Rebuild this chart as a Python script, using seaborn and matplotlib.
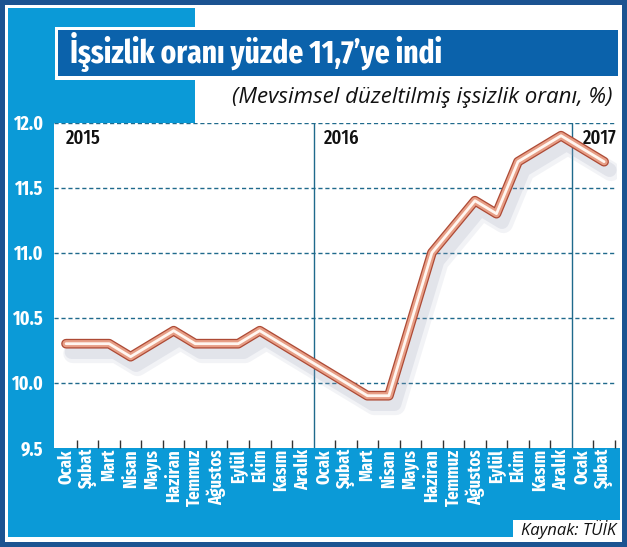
import pandas as pd
import seaborn as sns
import matplotlib.pyplot as plt
import matplotlib.patheffects as pe
from matplotlib.patches import Rectangle

# veriler
aylar = ['Ocak', 'Şubat', 'Mart', 'Nisan', 'Mayıs', 'Haziran', 'Temmuz',
         'Ağustos', 'Eylül', 'Ekim', 'Kasım', 'Aralık',
         'Ocak', 'Şubat', 'Mart', 'Nisan', 'Mayıs', 'Haziran', 'Temmuz',
         'Ağustos', 'Eylül', 'Ekim', 'Kasım', 'Aralık',
         'Ocak', 'Şubat']
oran = [10.3, 10.3, 10.3, 10.2, 10.3, 10.4, 10.3, 10.3, 10.3, 10.4, 10.3, 10.2,
        10.1, 10.0, 9.9, 9.9, 10.45, 11.0, 11.2, 11.4, 11.3, 11.7, 11.8, 11.9,
        11.8, 11.7]
yillar = ['2015', '2016', '2017']
yil_baslangic = [0, 12, 24]
y_ticks = [9.5, 10.0, 10.5, 11.0, 11.5, 12.0]

df = pd.DataFrame({'ay': range(len(oran)), 'oran': oran})

sns.set_style('white')
dar = ['Fira Sans Extra Condensed', 'DejaVu Sans']
italik = ['Open Sans', 'DejaVu Sans']
plt.rcParams['font.family'] = dar

W, H = 627, 547
koyu_mavi = '#1b5391'
acik_mavi = '#0b9ad7'
baslik_mavi = '#0b62ab'

fig = plt.figure(figsize=(W / 100, H / 100), dpi=100)

# arka plan (piksel koordinatlari)
bg = fig.add_axes([0, 0, 1, 1], zorder=0)
bg.set_xlim(0, W)
bg.set_ylim(H, 0)
bg.axis('off')

def kutu(x0, y0, x1, y1, renk):
    bg.add_patch(Rectangle((x0, y0), x1 - x0, y1 - y0, facecolor=renk,
                           edgecolor='none'))

kutu(0, 0, W, H, koyu_mavi)
kutu(5, 5, W - 5, H - 5, 'white')
kutu(8, 8, 195, 123, acik_mavi)
kutu(8, 8, 54, H - 10, acik_mavi)
kutu(8, 448, W - 7, H - 10, acik_mavi)
kutu(513, 520, W - 7, H - 10, 'white')
kutu(55, 27, 618, 80, 'white')
kutu(58, 30, 618, 76, baslik_mavi)

bg.text(70, 62.5, 'İşsizlik oranı yüzde 11,7\u2019ye indi', color='white',
        fontsize=23, fontweight='bold', va='baseline', ha='left')
bg.text(613, 103, '(Mevsimsel düzeltilmiş işsizlik oranı, %)', color='#111111',
        fontsize=16, style='italic', family=italik,
        va='baseline', ha='right')
bg.text(616, 535, 'Kaynak: TÜİK', color='#111111', fontsize=12,
        style='italic', family=italik, va='baseline', ha='right')

# grafik alani
x0, x1, y_ust, y_alt = 54, 617, 122.7, 447.7
ax = fig.add_axes([x0 / W, 1 - y_alt / H, (x1 - x0) / W, (y_alt - y_ust) / H],
                  zorder=1)
ax.set_facecolor('white')

sns.lineplot(data=df, x='ay', y='oran', ax=ax, color='#e49a80', linewidth=4,
             solid_capstyle='round', solid_joinstyle='round', zorder=5)
cizgi = ax.lines[-1]
cizgi.set_path_effects([
    pe.SimpleLineShadow(offset=(5, -7), shadow_color='#9aa0b8', alpha=0.12,
                        linewidth=14),
    pe.SimpleLineShadow(offset=(4, -6), shadow_color='#9aa0b8', alpha=0.18,
                        linewidth=10),
    pe.Stroke(linewidth=7, foreground='#ad4a35', capstyle='round',
              joinstyle='round'),
    pe.Stroke(linewidth=5.2, foreground='#e79e86', capstyle='round',
              joinstyle='round'),
    pe.Stroke(linewidth=2, foreground='#fff6f0', capstyle='round',
              joinstyle='round'),
])

ax.set_xlim(-0.56, 25.6)
ax.set_ylim(9.5, 12.0)

for yv in y_ticks[1:]:
    ax.axhline(yv, color='#1f6a8c', linewidth=1, linestyle=(0, (3, 2)),
               zorder=1)
for xv in yil_baslangic[1:]:
    ax.axvline(xv - 0.5, color='#1f6a8c', linewidth=1, zorder=1)

for yil, xv in zip(yillar, yil_baslangic):
    ax.text(max(xv, -0.37), 11.955, yil, color='#111111',
            fontsize=14.5, fontweight='medium', va='top', ha='left', zorder=6)

ax.set_xticks(range(len(aylar)))
ax.set_xticklabels(aylar, rotation=90, color='white', fontsize=13,
                   fontweight='bold')
ax.set_xticks([i + 0.5 for i in range(len(aylar)) if i + 0.5 not in (11.5, 23.5)],
              minor=True)
ax.tick_params(axis='x', which='major', length=0, pad=1)
ax.tick_params(axis='x', which='minor', length=6, width=1, direction='in',
               color='#333333', bottom=True)

ax.set_yticks(y_ticks)
ax.set_yticklabels([f'{v:.1f}' for v in y_ticks], color='white', fontsize=14,
                   fontweight='bold')
ax.tick_params(axis='y', length=0, pad=8)

ax.set_xlabel('')
ax.set_ylabel('')
for s in ax.spines.values():
    s.set_visible(False)

fig.savefig('out.png', dpi=100)
